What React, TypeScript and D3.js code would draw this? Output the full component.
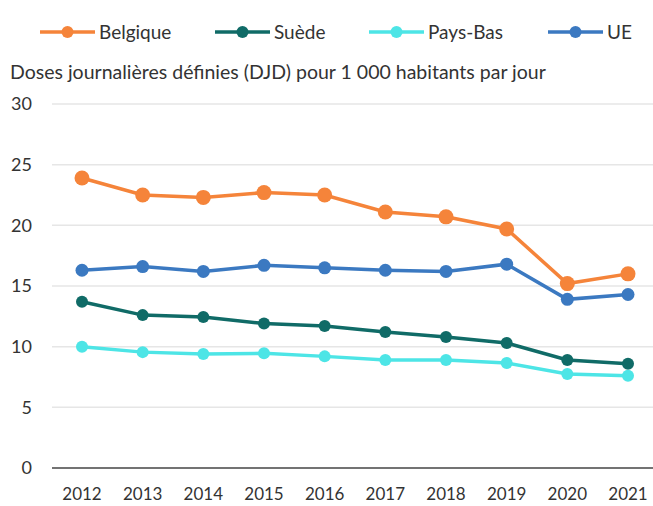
import { useEffect, useRef } from 'react'
import * as d3 from 'd3'

const years = [2012, 2013, 2014, 2015, 2016, 2017, 2018, 2019, 2020, 2021]
const belgique = [23.9, 22.5, 22.3, 22.7, 22.5, 21.1, 20.7, 19.7, 15.2, 16.0]
const suede = [13.7, 12.6, 12.45, 11.9, 11.7, 11.2, 10.8, 10.3, 8.9, 8.6]
const paysBas = [10.0, 9.55, 9.4, 9.45, 9.2, 8.9, 8.9, 8.65, 7.75, 7.6]
const ue = [16.3, 16.6, 16.2, 16.7, 16.5, 16.3, 16.2, 16.8, 13.9, 14.3]
const yTicks = [0, 5, 10, 15, 20, 25, 30]
const subtitle = 'Doses journalières définies (DJD) pour 1 000 habitants par jour'

const series = [
  { name: 'Belgique', values: belgique, color: '#F5843A', r: 7.5, legendX: 40 },
  { name: 'Suède', values: suede, color: '#106B67', r: 6, legendX: 215 },
  { name: 'Pays-Bas', values: paysBas, color: '#4DE5E6', r: 6, legendX: 369 },
  { name: 'UE', values: ue, color: '#3B79C1', r: 6.5, legendX: 548 },
]

const App = () => {
  const ref = useRef(null)

  useEffect(() => {
    const width = 653, height = 506
    const font = 'Lato, "Noto Sans", sans-serif'
    const textColor = '#333'

    const root = d3.select(ref.current)
    root.selectAll('*').remove()
    const svg = root.append('svg')
      .attr('width', width)
      .attr('height', height)
      .style('display', 'block')
      .style('position', 'absolute')
      .style('left', 0)
      .style('top', 0)
      .style('font-family', font)

    const x = d3.scalePoint<number>()
      .domain(years)
      .range([82, 628])
    const y = d3.scaleLinear()
      .domain([0, 30])
      .range([468, 104])

    // grid
    svg.append('g')
      .selectAll('line')
      .data(yTicks.filter(d => d > 0))
      .enter()
      .append('line')
      .attr('x1', 52)
      .attr('x2', 653)
      .attr('y1', d => y(d))
      .attr('y2', d => y(d))
      .attr('stroke', '#e6e6e6')
      .attr('stroke-width', 1.5)

    // baseline
    svg.append('line')
      .attr('x1', 52).attr('x2', 653)
      .attr('y1', y(0)).attr('y2', y(0))
      .attr('stroke', '#444').attr('stroke-width', 1.5)

    // y labels
    svg.append('g')
      .selectAll('text')
      .data(yTicks)
      .enter()
      .append('text')
      .attr('x', 32)
      .attr('y', d => y(d))
      .attr('dy', '0.35em')
      .attr('text-anchor', 'end')
      .attr('font-size', 18)
      .attr('fill', textColor)
      .text(d => d)

    // x labels
    svg.append('g')
      .selectAll('text')
      .data(years)
      .enter()
      .append('text')
      .attr('x', d => x(d))
      .attr('y', 500)
      .attr('text-anchor', 'middle')
      .attr('font-size', 17)
      .attr('fill', textColor)
      .text(d => d)

    // subtitle
    svg.append('text')
      .attr('x', 10)
      .attr('y', 79)
      .attr('font-size', 19.5)
      .attr('fill', textColor)
      .text(subtitle)

    const line = d3.line<number>()
      .x((d, i) => x(years[i]))
      .y(d => y(d))

    series.forEach(s => {
      svg.append('path')
        .datum(s.values)
        .attr('d', line)
        .attr('fill', 'none')
        .attr('stroke', s.color)
        .attr('stroke-width', 3.5)
      svg.append('g')
        .selectAll('circle')
        .data(s.values)
        .enter()
        .append('circle')
        .attr('cx', (d, i) => x(years[i]))
        .attr('cy', d => y(d))
        .attr('r', s.r)
        .attr('fill', s.color)

      // legend
      const lg = svg.append('g').attr('transform', `translate(${s.legendX},32)`)
      lg.append('line')
        .attr('x1', 0).attr('x2', 55)
        .attr('stroke', s.color).attr('stroke-width', 3.5)
      lg.append('circle')
        .attr('cx', 27.5).attr('r', 6).attr('fill', s.color)
      lg.append('text')
        .attr('x', 59)
        .attr('dy', '0.35em')
        .attr('font-size', 19)
        .attr('fill', textColor)
        .text(s.name)
    })
  }, [])

  return <div ref={ref}></div>
}

export default App
